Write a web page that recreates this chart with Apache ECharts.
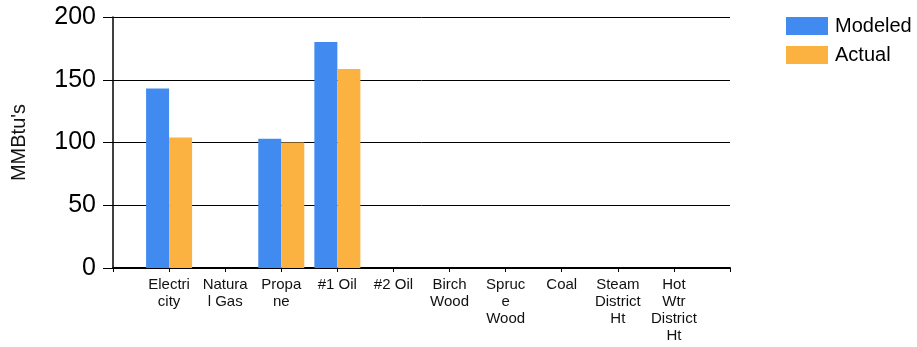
<!DOCTYPE html>
<html>
<head>
<meta charset="utf-8">
<script src="https://cdn.jsdelivr.net/npm/echarts@6/dist/echarts.min.js"></script>
<style>
html,body{margin:0;padding:0;background:#fff;}
#chart{width:917px;height:347px;}
</style>
</head>
<body>
<div id="chart"></div>
<script>
// categories as wrapped in the picture
let categories=["Electri\ncity","Natura\nl Gas","Propa\nne","#1 Oil","#2 Oil","Birch\nWood","Spruc\ne\nWood","Coal","Steam\nDistrict\nHt","Hot\nWtr\nDistrict\nHt"];
let modeled=[143,null,103,180,null,null,null,null,null,null];
let actual=[104,null,100,158.5,null,null,null,null,null,null];
let yTicks=[0,50,100,150,200];

// empty slot on each end so the bars sit between the axis ends
let xData=[""].concat(categories,[""]);
let pad=function(arr){return [null].concat(arr,[null]);};

let font="Liberation Sans, Arial, sans-serif";
var myChart=echarts.init(document.getElementById("chart"));
let option={
    animation:false,
    textStyle:{fontFamily:font},
    grid:{left:113,right:187,top:17,bottom:79},
    legend:{
        orient:"vertical",
        left:781,
        top:11,
        itemWidth:42,
        itemHeight:18,
        itemGap:9,
        icon:"rect",
        textStyle:{fontSize:20,color:"#000",fontFamily:font,padding:[0,0,0,2]},
        data:["Modeled","Actual"]
    },
    xAxis:{
        type:"category",
        data:xData,
        boundaryGap:false,
        axisLine:{lineStyle:{color:"#000",width:2}},
        axisTick:{length:4,lineStyle:{color:"#000"}},
        axisLabel:{interval:0,fontSize:15,lineHeight:17,color:"#111",margin:8,fontFamily:font},
        splitLine:{show:false}
    },
    yAxis:{
        type:"value",
        min:yTicks[0],
        max:yTicks[yTicks.length-1],
        interval:50,
        name:"MMBtu's",
        nameLocation:"middle",
        nameGap:84,
        nameTextStyle:{fontSize:20,color:"#111",fontFamily:font},
        axisLine:{show:true,lineStyle:{color:"#000",width:1.5}},
        axisTick:{show:true,length:10,lineStyle:{color:"#000"}},
        axisLabel:{fontSize:25,color:"#000",margin:17,fontFamily:font},
        splitLine:{lineStyle:{color:"#000",width:1}}
    },
    series:[{
        name:"Modeled",
        type:"bar",
        data:pad(modeled),
        barWidth:23,
        barGap:"0%",
        itemStyle:{color:"#418BF0"}
    },{
        name:"Actual",
        type:"bar",
        data:pad(actual),
        barWidth:23,
        itemStyle:{color:"#FBB241"}
    }]
};
myChart.setOption(option);
</script>
</body>
</html>
